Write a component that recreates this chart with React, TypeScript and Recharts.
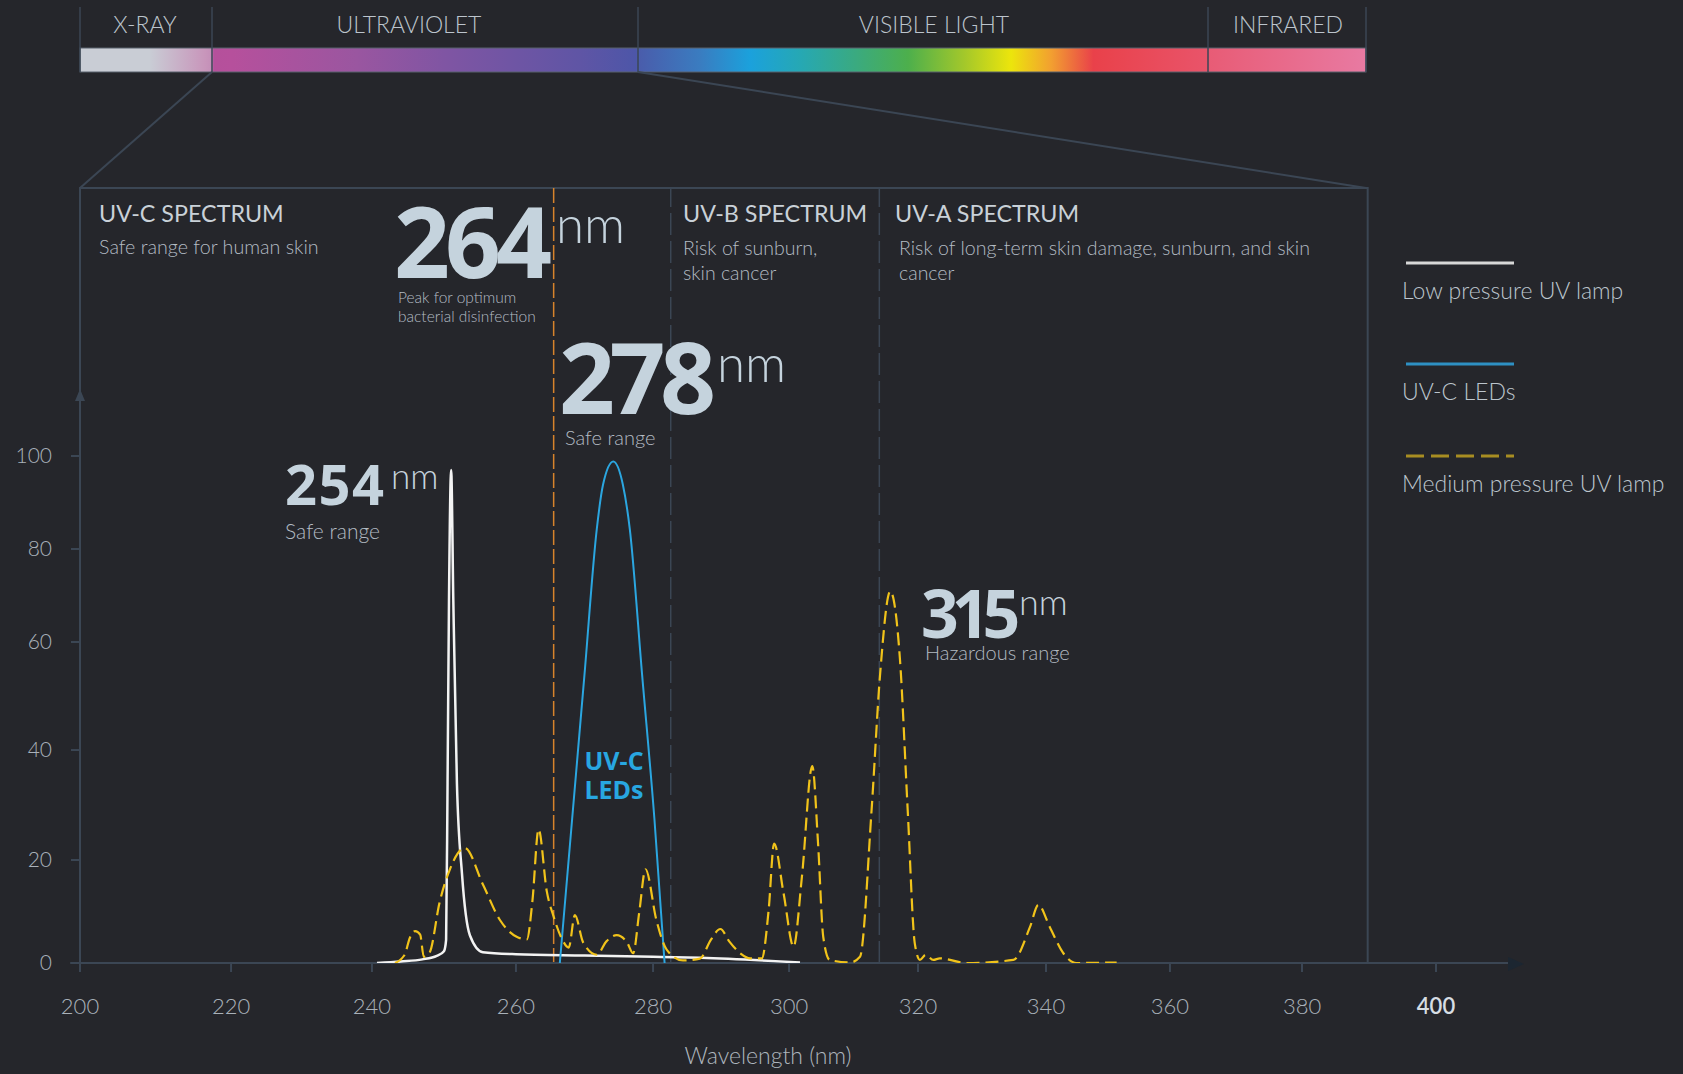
import React from "react";
import { LineChart, Line, XAxis, YAxis, ReferenceLine, ReferenceArea, Legend } from "recharts";

// ---------- data ----------
const xTicks = [200, 220, 240, 260, 280, 300, 320, 340, 360, 380, 400];
const yTicks = [0, 20, 40, 60, 80, 100];

// low pressure UV lamp (white)
const lowNm = [240.7, 244, 247, 249, 250, 250.3, 250.5, 250.7, 251, 251.3,
  251.8, 252.5, 253.6, 255.4, 260, 270, 280, 287, 301.7];
const lowVal = [0, 0.3, 0.7, 1.4, 2.3, 4.5, 34, 69, 97, 69,
  34, 17.4, 5.4, 2.1, 1.7, 1.45, 1.2, 1.0, 0.1];

// UV-C LEDs (blue)
const ledNm = [266.4, 268.2, 270, 271.8, 272.7, 274.2, 275.6, 276.6, 278.4, 280.2, 281.7];
const ledVal = [0, 27.5, 54, 84.4, 93.8, 98.8, 93.8, 84.4, 54, 27.5, 0];

// medium pressure UV lamp (yellow, dashed)
const medNm = [
  243.2, 244.5, 245.3, 246.0, 246.7, 247.2, 248.0, 249.4, 250.8, 252.9,
  255.4, 257.8, 260.1, 261.6, 262.4, 263.3, 264.5, 265.5, 266.7, 267.7,
  268.6, 269.8, 271.8, 273.2, 274.7, 276.2, 277.1, 278.0, 278.9, 280.5,
  282.0, 284.4, 286.9, 288.5, 289.9, 291.2, 292.8, 294.3, 296.0, 297.0,
  297.8, 299.2, 300.7, 302.0, 303.6, 304.5, 305.3, 306.3, 309.5, 311.0,
  312.8, 314.1, 315.7, 317.2, 318.4, 319.5, 320.3, 321.2, 322.4, 323.4,
  327.6, 334.9, 337.5, 338.8, 340.6, 342.8, 344.9, 351.4,
];
const medVal = [
  0, 1.5, 5, 6.2, 5.5, 1.2, 2.0, 11.8, 18.1, 22.2,
  15.3, 8.3, 5.1, 4.6, 12, 25.6, 13.9, 9.0, 4.7, 3.0,
  9.3, 4.0, 1.6, 4.2, 5.4, 4.0, 1.9, 10, 18.2, 8.3,
  2.6, 0.5, 0.85, 4.5, 6.6, 4.2, 1.9, 0.9, 0.9, 10.3,
  23.0, 13.5, 3.2, 16.8, 37.1, 23.0, 5.1, 0.6, 0.1, 1.2,
  29.1, 53.7, 70.9, 56.8, 29.1, 3.8, 0.6, 1.6, 0.6, 0.9,
  0, 0.6, 7.0, 11.3, 7.0, 1.9, 0, 0.1,
];

// section borders (nm): 264 peak line, UV-B start, UV-A start, end of box
const peakLine = 265.5;
const sectionLines = [282.6, 314];
const boxEnd = 389.8;

const lowData = lowNm.map((nm, i) => ({ nm, v: lowVal[i] }));
const ledData = ledNm.map((nm, i) => ({ nm, v: ledVal[i] }));
const medData = medNm.map((nm, i) => ({ nm, v: medVal[i] }));

// ---------- styling ----------
const BG = "#25262b";
const LINE = "#3b4654";
const HEAD = "#c9d1d8";
const SUB = "#b3bbc3";
const BIG = "#c5d3dd";
const FONT = "Lato, 'Open Sans', sans-serif";
const NUM_FONT = "'Open Sans', Lato, sans-serif";

const series = [
  { name: "Low pressure UV lamp", stroke: "#f3f3f3", legend: "#d8d8d8", dash: undefined as string | undefined, legendDash: undefined as string | undefined },
  { name: "UV-C LEDs", stroke: "#2ba6e0", legend: "#2e90c3", dash: undefined, legendDash: undefined },
  { name: "Medium pressure UV lamp", stroke: "#f1c31a", legend: "#a88d22", dash: "13 6", legendDash: "18 7" },
];

// the original axes are hand-placed, so both scales are piecewise linear
// stops: [value, fraction of the axis range]
const X_STOPS: [number, number][] = [
  [200, 0], [220, 0.1114], [240, 0.2153], [260, 0.3215], [280, 0.4226], [300, 0.5229],
  [320, 0.618], [340, 0.7124], [360, 0.8038], [380, 0.9012], [400, 1],
];
const Y_STOPS: [number, number][] = [
  [0, 0], [20, 0.1329], [40, 0.2748], [60, 0.4142], [80, 0.5342], [100, 0.6542],
];

function piecewiseScale(stops: [number, number][], dom: number[], rng: number[]): any {
  let domain = dom.slice();
  let range = rng.slice();
  const n = stops.length;
  const frac = (v: number) => {
    let i = 0;
    if (v >= stops[n - 1][0]) i = n - 2;
    else while (i < n - 2 && v > stops[i + 1][0]) i++;
    const [v0, f0] = stops[i];
    const [v1, f1] = stops[i + 1];
    return f0 + ((v - v0) / (v1 - v0)) * (f1 - f0);
  };
  const s: any = (v: any) => range[0] + frac(Number(v)) * (range[range.length - 1] - range[0]);
  s.domain = (d?: number[]) => {
    if (d === undefined) return domain.slice();
    domain = d.slice();
    return s;
  };
  s.range = (r?: number[]) => {
    if (r === undefined) return range.slice();
    range = r.slice();
    return s;
  };
  s.copy = () => piecewiseScale(stops, domain, range);
  s.ticks = () => stops.map((t) => t[0]);
  s.tickFormat = () => (v: any) => String(v);
  s.clamp = () => s;
  s.nice = () => s;
  s.invert = (px: number) => {
    const f = (px - range[0]) / (range[range.length - 1] - range[0]);
    for (let i = 0; i < n - 1; i++) {
      if (f <= stops[i + 1][1] || i === n - 2) {
        const [v0, f0] = stops[i];
        const [v1, f1] = stops[i + 1];
        return v0 + ((f - f0) / (f1 - f0)) * (v1 - v0);
      }
    }
    return domain[0];
  };
  return s;
}

const xScale = piecewiseScale(X_STOPS, [200, 400], [0, 1]);
const yScale = piecewiseScale(Y_STOPS, [0, 100], [1, 0]);

const XTick = (props: any) => {
  const { x, y, payload } = props;
  const last = payload.value === 400;
  return (
    <text x={x} y={y + 40} textAnchor="middle" fontFamily={FONT} fontSize={22}
      fontWeight={last ? 600 : 300} fill={last ? "#d6dde3" : "#a9b1b9"}>
      {payload.value}
    </text>
  );
};

const YTick = (props: any) => {
  const { x, y, payload } = props;
  return (
    <text x={x - 17} y={y + 7} textAnchor="end" fontFamily={FONT} fontSize={21}
      fontWeight={300} fill="#a9b1b9">
      {payload.value}
    </text>
  );
};

// legend entries' vertical spots, as in the original
const legendTops = [0, 101, 193];

const LegendContent = (props: any) => {
  const payload = props.payload || [];
  // keep the original order (low, LEDs, medium), whatever order recharts hands over
  const entries = series
    .map((s) => ({ cfg: s, item: payload.find((p: any) => p.value === s.name) }))
    .filter((e) => e.item);
  return (
    <div style={{ position: "relative", width: 281, height: 260, fontFamily: FONT }}>
      {entries.map(({ cfg }, i) => (
        <div key={cfg.name} style={{ position: "absolute", left: 0, top: legendTops[i] }}>
          <svg width={112} height={6} style={{ display: "block", marginLeft: 4 }}>
            <line x1={0} y1={3} x2={108} y2={3} stroke={cfg.legend} strokeWidth={3}
              strokeDasharray={cfg.legendDash} />
          </svg>
          <div style={{ fontSize: 23, fontWeight: 300, color: "#bcc5cd", marginTop: 10, whiteSpace: "nowrap", lineHeight: "28px" }}>
            {cfg.name}
          </div>
        </div>
      ))}
    </div>
  );
};

// ---------- decoration (spectrum bar, notes) ----------
const bandNames = ["X-RAY", "ULTRAVIOLET", "VISIBLE LIGHT", "INFRARED"];
const bandLabelX = [145, 409, 934, 1288];
const bandEdges = [80, 212, 638, 1208, 1366];

const spectrumStops: [number, string][] = [
  [0, "#c9cdd5"], [0.054, "#c9cdd5"], [0.097, "#c896bb"], [0.1025, "#c48fb8"],
  [0.104, "#b5509b"], [0.118, "#b6509c"], [0.215, "#9a56a0"], [0.285, "#7f55a3"],
  [0.389, "#5f55a5"], [0.432, "#4d56a8"], [0.434, "#4a5cab"], [0.482, "#3a7cc0"],
  [0.521, "#1ba1dc"], [0.56, "#26a8b4"], [0.603, "#3aaa80"], [0.644, "#4daf4c"],
  [0.688, "#a4c82a"], [0.724, "#ece50c"], [0.755, "#f2a030"], [0.788, "#e9414a"],
  [0.876, "#e9546a"], [0.879, "#e85c76"], [1, "#e87aa2"],
];

type Note = { t: string; x: number; y: number; s: number; w?: number; f?: string; ls?: number; font?: string; a?: "start" | "middle" | "end" };
const notes: Note[] = [
  { t: "UV-C SPECTRUM", x: 99, y: 222, s: 23.3, w: 400, f: HEAD },
  { t: "Safe range for human skin", x: 99, y: 254, s: 19.7 },
  { t: "264", x: 394, y: 278, s: 98, w: 700, f: BIG, ls: -5, font: NUM_FONT },
  { t: "nm", x: 556, y: 243, s: 51, f: BIG },
  { t: "Peak for optimum", x: 398, y: 303, s: 15.5 },
  { t: "bacterial disinfection", x: 398, y: 322, s: 15.5 },
  { t: "UV-B SPECTRUM", x: 683, y: 222, s: 23.3, w: 400, f: HEAD },
  { t: "Risk of sunburn,", x: 683, y: 255, s: 19.5 },
  { t: "skin cancer", x: 683, y: 280, s: 19.5 },
  { t: "UV-A SPECTRUM", x: 895, y: 222, s: 23.3, w: 400, f: HEAD },
  { t: "Risk of long-term skin damage, sunburn, and skin", x: 899, y: 255, s: 19.6 },
  { t: "cancer", x: 899, y: 280, s: 19.5 },
  { t: "278", x: 559, y: 414, s: 98, w: 700, f: BIG, ls: -5.5, font: NUM_FONT },
  { t: "nm", x: 717, y: 382, s: 51, f: BIG },
  { t: "Safe range", x: 565, y: 445, s: 20 },
  { t: "254", x: 285, y: 505, s: 56, w: 700, f: BIG, ls: 1.5, font: NUM_FONT },
  { t: "nm", x: 391, y: 489, s: 35, f: BIG },
  { t: "Safe range", x: 285, y: 539, s: 21 },
  { t: "UV-C", x: 614, y: 770, s: 25, w: 700, f: "#28a7e1", a: "middle", font: NUM_FONT },
  { t: "LEDs", x: 614, y: 799, s: 25, w: 700, f: "#28a7e1", a: "middle", font: NUM_FONT },
  { t: "315", x: 921, y: 638, s: 66, w: 700, f: BIG, ls: -7, font: NUM_FONT },
  { t: "nm", x: 1019, y: 615, s: 36, f: BIG },
  { t: "Hazardous range", x: 925, y: 660, s: 20 },
  { t: "Wavelength (nm)", x: 768, y: 1064, s: 23, a: "middle", f: "#aeb6be" },
];

export default function App() {
  return (
    <div style={{ position: "fixed", left: 0, top: 0, width: 1683, height: 1074, background: BG, overflow: "hidden", fontFamily: FONT }}>
      <div style={{ position: "absolute", left: 0, top: 0 }}>
        <LineChart width={1683} height={1074} margin={{ top: 188, right: 247, bottom: 51, left: 0 }}>
          <XAxis type="number" dataKey="nm" domain={[200, 400]} ticks={xTicks} interval={0}
            scale={xScale} allowDataOverflow height={60} axisLine={false}
            tickLine={{ stroke: LINE, strokeWidth: 2 }} tickSize={9} tick={<XTick />} />
          <YAxis type="number" domain={[0, 100]} ticks={yTicks} interval={0} scale={yScale}
            allowDataOverflow width={80} axisLine={false}
            tickLine={{ stroke: LINE, strokeWidth: 2 }} tickSize={9} tick={<YTick />} />
          <ReferenceArea x1={200} x2={boxEnd} fill="none" stroke={LINE} strokeWidth={2} ifOverflow="visible" />
          {sectionLines.map((x) => (
            <ReferenceLine key={x} x={x} stroke={LINE} strokeWidth={1.5} strokeDasharray="22 6" />
          ))}
          <ReferenceLine x={peakLine} stroke="#d7832c" strokeWidth={1.5} strokeDasharray="15 4" />
          <ReferenceLine segment={[{ x: 198.7, y: 0 }, { x: 412.5, y: 0 }]} stroke={LINE}
            strokeWidth={2} ifOverflow="visible" />
          <Line data={lowData} dataKey="v" name={series[0].name} type="monotone" stroke={series[0].stroke}
            strokeWidth={2.5} dot={false} activeDot={false} isAnimationActive={false} />
          <Line data={ledData} dataKey="v" name={series[1].name} type="monotone" stroke={series[1].stroke}
            strokeWidth={2} dot={false} activeDot={false} isAnimationActive={false} />
          <Line data={medData} dataKey="v" name={series[2].name} type="monotone" stroke={series[2].stroke}
            strokeWidth={2.2} strokeDasharray={series[2].dash} dot={false} activeDot={false} isAnimationActive={false} />
          <Legend layout="vertical" align="center" verticalAlign="middle" content={<LegendContent />}
            wrapperStyle={{ left: 1402, top: 260, width: 281, height: 260 }} />
        </LineChart>
      </div>
      <svg width={1683} height={1074} style={{ position: "absolute", left: 0, top: 0, pointerEvents: "none" }}>
        <defs>
          <linearGradient id="spectrum" x1="0" y1="0" x2="1" y2="0">
            {spectrumStops.map(([o, c], i) => <stop key={i} offset={o} stopColor={c} />)}
          </linearGradient>
        </defs>
        <rect x={80} y={48} width={1286} height={24} fill="url(#spectrum)" stroke="#59616d" strokeWidth={1} />
        {bandEdges.map((x) => (
          <line key={x} x1={x} y1={7} x2={x} y2={72} stroke={LINE} strokeWidth={1.5} />
        ))}
        {bandNames.map((t, i) => (
          <text key={t} x={bandLabelX[i]} y={33} textAnchor="middle" fontFamily={FONT} fontSize={23}
            fontWeight={300} fill="#bcc4cc">{t}</text>
        ))}
        <line x1={212} y1={72} x2={80} y2={188} stroke={LINE} strokeWidth={2} />
        <line x1={638} y1={72} x2={1366} y2={188} stroke={LINE} strokeWidth={2} />
        <polygon points="80,389 75,401 85,401" fill={LINE} />
        <polygon points="1524,964 1508,957 1508,971" fill="#1c2631" />
        {notes.map((n, i) => (
          <text key={i} x={n.x} y={n.y} textAnchor={n.a || "start"} fontFamily={n.font || FONT}
            fontSize={n.s} fontWeight={n.w ?? 300} fill={n.f || SUB} letterSpacing={n.ls || 0}>
            {n.t}
          </text>
        ))}
      </svg>
    </div>
  );
}
